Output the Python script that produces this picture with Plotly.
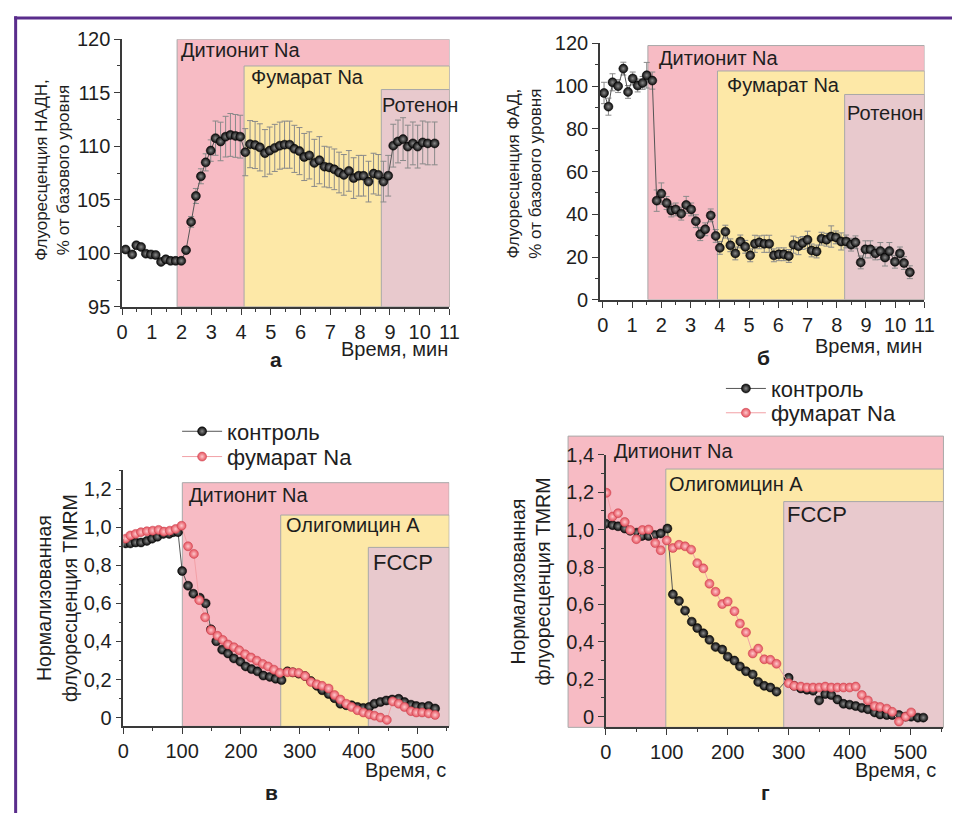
import plotly.graph_objects as go

# ---------------- DATA ----------------
# Panel а: NADH fluorescence, % of baseline
a_time = [0.12, 0.34, 0.48, 0.64, 0.80, 0.97, 1.13, 1.31, 1.47, 1.63, 1.80, 1.99, 2.15, 2.32, 2.48,
          2.65, 2.81, 2.98, 3.14, 3.31, 3.48, 3.64, 3.81, 3.97, 4.14, 4.30, 4.47, 4.63, 4.80, 4.96,
          5.13, 5.30, 5.46, 5.63, 5.79, 5.96, 6.12, 6.29, 6.46, 6.63, 6.80, 6.96, 7.13, 7.29, 7.45,
          7.62, 7.78, 7.95, 8.11, 8.28, 8.45, 8.61, 8.78, 8.94, 9.11, 9.27, 9.44, 9.60, 9.77, 9.93,
          10.10, 10.27, 10.50]
a_nadh = [100.36, 99.9, 100.76, 100.6, 99.97, 99.9, 99.85, 99.2, 99.45, 99.3, 99.3, 99.3, 100.3, 102.94, 105.36,
          107.2, 108.5, 109.6, 110.76, 110.45, 110.9, 111.06, 110.97, 110.9, 109.45, 110.2, 110.12, 109.9, 109.36, 109.6,
          109.85, 110.06, 110.15, 110.15, 109.76, 109.55, 109.0, 109.15, 108.45, 108.7, 108.1, 108.03, 107.85, 107.55, 107.33,
          107.7, 107.03, 107.25, 107.25, 106.7, 107.45, 107.33, 106.7, 107.25, 110.06, 110.45, 110.67, 109.97, 110.27, 109.97,
          110.36, 110.27, 110.27]
a_err = [0.2, 0.2, 0.2, 0.2, 0.2, 0.2, 0.2, 0.2, 0.2, 0.2, 0.2, 0.2, 0.3, 0.5, 0.7,
         0.7, 0.8, 1.0, 1.6, 1.8, 1.9, 2.0, 2.0, 2.0, 2.2, 2.2, 2.2, 2.2, 2.2, 2.2,
         2.2, 2.2, 2.2, 2.2, 2.2, 2.2, 2.2, 2.2, 2.2, 2.2, 1.9, 1.9, 1.9, 1.9, 1.9,
         1.9, 1.9, 1.9, 1.9, 1.9, 1.9, 1.9, 1.9, 1.9, 2.0, 2.0, 2.0, 2.0, 2.0, 2.0,
         2.0, 2.0, 2.0]

# Panel б: FAD fluorescence, % of baseline
b_time = [0.04, 0.19, 0.33, 0.52, 0.70, 0.86, 1.02, 1.19, 1.36, 1.50, 1.69, 1.84, 2.00, 2.18, 2.34, 2.49,
          2.68, 2.85, 3.02, 3.18, 3.33, 3.50, 3.69, 3.86, 4.00, 4.19, 4.36, 4.53, 4.70, 4.87, 5.04, 5.20,
          5.35, 5.52, 5.69, 5.85, 6.02, 6.19, 6.36, 6.52, 6.69, 6.83, 7.00, 7.14, 7.31, 7.48, 7.65, 7.81,
          7.97, 8.15, 8.32, 8.49, 8.64, 8.82, 8.98, 9.15, 9.32, 9.49, 9.65, 9.80, 9.99, 10.16, 10.30, 10.50]
b_fad = [96.8, 90.4, 101.8, 100.0, 108.2, 97.3, 103.6, 100.3, 101.5, 105.1, 102.6, 46.4, 49.7, 45.3, 41.8, 42.3,
         40.3, 44.4, 42.3, 36.8, 30.7, 33.0, 39.5, 29.9, 24.3, 31.9, 25.5, 21.7, 27.3, 24.8, 20.8, 26.2,
         26.9, 26.2, 26.2, 20.8, 21.3, 21.3, 20.5, 25.8, 25.1, 26.6, 28.1, 23.1, 22.6, 28.6, 28.1, 29.6,
         29.2, 27.3, 27.3, 25.8, 26.9, 17.5, 23.6, 23.6, 21.7, 22.8, 19.8, 22.8, 17.8, 21.7, 17.2, 12.9]
b_err = [5, 4, 4, 3, 3, 3, 3, 3, 3, 6, 4, 5, 5, 3, 3, 3,
         3, 4, 3, 3, 3, 3, 3, 3, 3, 3, 3, 3, 3, 3, 3, 4,
         3, 4, 4, 3, 3, 3, 3, 4, 4, 3, 4, 3, 3, 3, 3, 5,
         3, 4, 3, 3, 3, 3, 4, 4, 3, 4, 4, 4, 3, 3, 3, 3]

# Panel в: normalized TMRM fluorescence
v_ctrl_t = [4, 12, 21, 30, 40, 49, 58, 68, 78, 85, 93, 100, 110, 119, 130, 140, 149, 158, 168, 178, 188,
            199, 208, 218, 228, 238, 249, 259, 269, 279, 288, 298, 309, 319, 329, 338, 349, 359, 369, 379,
            388, 398, 408, 418, 427, 437, 447, 457, 468, 478, 489, 498, 508, 519, 530]
v_ctrl = [0.915, 0.915, 0.92, 0.92, 0.928, 0.94, 0.95, 0.965, 0.965, 0.974, 0.974, 0.77, 0.693, 0.651, 0.63,
          0.60, 0.464, 0.401, 0.357, 0.337, 0.311, 0.294, 0.269, 0.255, 0.243, 0.221, 0.214, 0.204, 0.197,
          0.243, 0.238, 0.231, 0.218, 0.192, 0.167, 0.144, 0.124, 0.102, 0.073, 0.065, 0.065, 0.056, 0.051,
          0.056, 0.073, 0.082, 0.09, 0.095, 0.099, 0.082, 0.068, 0.061, 0.056, 0.061, 0.048]
v_fum_t = [4, 12, 21, 30, 40, 50, 60, 69, 79, 89, 99, 110, 120, 129, 139, 149, 160, 169, 178, 188, 197,
           207, 217, 227, 237, 246, 256, 266, 279, 288, 298, 309, 319, 329, 338, 349, 359, 369, 379, 388,
           398, 408, 418, 427, 437, 448, 458, 468, 478, 489, 498, 508, 519, 530]
v_fum = [0.94, 0.957, 0.965, 0.974, 0.979, 0.982, 0.986, 0.977, 0.982, 0.991, 1.008, 0.90, 0.86, 0.617,
         0.527, 0.459, 0.43, 0.408, 0.384, 0.37, 0.354, 0.333, 0.316, 0.299, 0.282, 0.269, 0.252, 0.235,
         0.238, 0.238, 0.235, 0.218, 0.187, 0.175, 0.167, 0.153, 0.119, 0.095, 0.073, 0.056, 0.039, 0.027,
         0.017, 0.01, 0.0, -0.012, 0.085, 0.073, 0.056, 0.034, 0.027, 0.027, 0.022, 0.014]

# Panel г: normalized TMRM fluorescence
g_ctrl_t = [0, 11, 20, 31, 40, 51, 59, 70, 80, 90, 101, 110, 120, 130, 141, 150, 160, 170, 180, 191, 200,
            211, 220, 230, 241, 250, 260, 270, 280, 300, 309, 320, 330, 340, 350, 360, 370, 380, 390, 400,
            410, 420, 430, 441, 450, 461, 470, 481, 492, 501, 512, 521]
g_ctrl = [1.032, 1.024, 1.018, 1.006, 0.994, 0.984, 0.966, 0.966, 0.971, 0.98, 1.006, 0.654, 0.619, 0.567,
          0.508, 0.474, 0.446, 0.411, 0.373, 0.359, 0.321, 0.30, 0.269, 0.243, 0.226, 0.186, 0.165, 0.156,
          0.134, 0.208, 0.165, 0.151, 0.144, 0.139, 0.087, 0.121, 0.116, 0.092, 0.069, 0.064, 0.057, 0.047,
          0.04, 0.023, 0.012, 0.009, 0.009, 0.009, 0.0, 0.0, -0.005, -0.005]
g_fum_t = [1, 11, 20, 31, 40, 50, 60, 70, 81, 90, 100, 110, 120, 130, 140, 150, 160, 170, 180, 191, 200,
           211, 220, 230, 241, 250, 260, 270, 280, 300, 309, 320, 330, 340, 350, 360, 370, 380, 390, 400,
           410, 420, 430, 441, 450, 461, 470, 481, 492, 501]
g_fum = [1.197, 1.07, 1.088, 1.041, 0.998, 0.949, 0.998, 1.001, 0.928, 0.89, 0.942, 0.902, 0.919, 0.911,
         0.893, 0.821, 0.793, 0.711, 0.668, 0.602, 0.616, 0.564, 0.498, 0.451, 0.338, 0.364, 0.307, 0.304,
         0.283, 0.179, 0.165, 0.161, 0.156, 0.156, 0.156, 0.161, 0.156, 0.156, 0.156, 0.156, 0.161, 0.116,
         0.087, 0.057, 0.052, 0.043, 0.026, -0.026, 0.0, 0.023]

# tick labels
ab_xticks = [0, 1, 2, 3, 4, 5, 6, 7, 8, 9, 10, 11]
a_yticks = [95, 100, 105, 110, 115, 120]
b_yticks = [0, 20, 40, 60, 80, 100, 120]
vg_xticks = [0, 100, 200, 300, 400, 500]
v_yticks = [0, 0.2, 0.4, 0.6, 0.8, 1.0, 1.2]
v_yticktext = ["0", "0,2", "0,4", "0,6", "0,8", "1,0", "1,2"]
g_yticks = [0, 0.2, 0.4, 0.6, 0.8, 1.0, 1.2, 1.4]
g_yticktext = ["0", "0,2", "0,4", "0,6", "0,8", "1,0", "1,2", "1,4"]

# treatment intervals: (label, start, end, top)
a_regions = [("Дитионит Na", 1.85, 11, 120), ("Фумарат Na", 4.1, 11, 117.5), ("Ротенон", 8.71, 11, 115.3)]
b_regions = [("Дитионит Na", 1.54, 11, 119), ("Фумарат Na", 3.92, 11, 107.1), ("Ротенон", 8.27, 11, 96.1)]
v_regions = [("Дитионит Na", 100.3, 554, 1.234), ("Олигомицин А", 267.6, 554, 1.064), ("FCCP", 416.5, 554, 0.894)]
g_regions = [("Дитионит Na", -62, 554, 1.5), ("Олигомицин А", 98.4, 554, 1.324), ("FCCP", 291.9, 554, 1.15)]

# ---------------- STYLE ----------------
W, H = 962, 824
FONT = "Liberation Sans, Arial, sans-serif"
TXT = "#1e1e1e"
REG_COLORS = ["#f7bbc4", "#fde8a7", "#e8c9cd"]
REG_LINE = "#a8a8a8"

def px2x(px):
    return px / W

def px2y(py):
    return 1 - py / H

panels = {
    "a": dict(xd=[118, 451], yd=[304, 29], xr=[0, 11], yr=[95, 120]),
    "b": dict(xd=[604, 934], yd=[296.7, 33.3], xr=[-0.1, 11], yr=[0, 120]),
    "v": dict(xd=[119.3, 450.7], yd=[735, 471.7], xr=[0, 554], yr=[-0.046, 1.3]),
    "g": dict(xd=[610, 953.3], yd=[736, 456], xr=[0, 554], yr=[-0.057, 1.4]),
}
axis_ids = {"a": ("x", "y"), "b": ("x2", "y2"), "v": ("x3", "y3"), "g": ("x4", "y4")}

fig = go.Figure()

ball_black = dict(color="#080808", size=9, line=dict(color="#000", width=0.5),
                  gradient=dict(type="radial", color="#8a8a8a"))
ball_pink = dict(color="#e4505c", size=9, line=dict(color="#c8404c", width=0.5),
                 gradient=dict(type="radial", color="#ffc8cc"))

def err(arr):
    return dict(type="data", array=arr, visible=True, color="#8a8a8a", thickness=1, width=3)

fig.add_trace(go.Scatter(x=a_time, y=a_nadh, mode="lines+markers", xaxis="x", yaxis="y",
                         line=dict(color="#555", width=1), marker=ball_black,
                         error_y=err(a_err), showlegend=False))
fig.add_trace(go.Scatter(x=b_time, y=b_fad, mode="lines+markers", xaxis="x2", yaxis="y2",
                         line=dict(color="#555", width=1), marker=ball_black,
                         error_y=err(b_err), showlegend=False))
fig.add_trace(go.Scatter(x=v_ctrl_t, y=v_ctrl, mode="lines+markers", xaxis="x3", yaxis="y3",
                         line=dict(color="#555", width=1), marker=ball_black,
                         name="контроль", legend="legend"))
fig.add_trace(go.Scatter(x=v_fum_t, y=v_fum, mode="lines+markers", xaxis="x3", yaxis="y3",
                         line=dict(color="#f2a0a6", width=1), marker=ball_pink,
                         name="фумарат Na", legend="legend2"))
fig.add_trace(go.Scatter(x=g_ctrl_t, y=g_ctrl, mode="lines+markers", xaxis="x4", yaxis="y4",
                         line=dict(color="#555", width=1), marker=ball_black,
                         name="контроль", legend="legend3"))
fig.add_trace(go.Scatter(x=g_fum_t, y=g_fum, mode="lines+markers", xaxis="x4", yaxis="y4",
                         line=dict(color="#f2a0a6", width=1), marker=ball_pink,
                         name="фумарат Na", legend="legend4"))

shapes = []
annotations = []

def to_paper(p, x, y):
    d = panels[p]
    x0, x1 = d["xd"]
    yb, yt = d["yd"]
    pxx = x0 + (x - d["xr"][0]) / (d["xr"][1] - d["xr"][0]) * (x1 - x0)
    pyy = yb + (y - d["yr"][0]) / (d["yr"][1] - d["yr"][0]) * (yt - yb)
    return px2x(pxx), px2y(pyy)

label_pos = {
    "a": [(176, 40), (247, 68), (380, 97)],
    "b": [(662, 48), (731, 76), (853, 105)],
    "v": [(184, 497), (283, 528), (371, 567)],
    "g": [(616, 452), (672, 486), (792, 517)],
}

for p, regs in [("a", a_regions), ("b", b_regions), ("v", v_regions), ("g", g_regions)]:
    xa, ya = axis_ids[p]
    for i, (lab, s, e, top) in enumerate(regs):
        if p == "g" and i == 0:
            # this band extends beyond the axes, so place it on the page
            x0p, y0p = to_paper(p, s, panels[p]["yr"][0])
            x1p, y1p = to_paper(p, e, top)
            shapes.append(dict(type="rect", xref="paper", yref="paper", x0=x0p, x1=x1p, y0=y0p, y1=y1p,
                               fillcolor=REG_COLORS[i], line=dict(color=REG_LINE, width=1), layer="below"))
        else:
            shapes.append(dict(type="rect", xref=xa, yref=ya, x0=s, x1=e, y0=panels[p]["yr"][0], y1=top,
                               fillcolor=REG_COLORS[i], line=dict(color=REG_LINE, width=1), layer="below"))
        lx, ly = label_pos[p][i]
        annotations.append(dict(xref="paper", yref="paper", x=px2x(lx), y=px2y(ly), xanchor="left",
                                yanchor="middle", text=lab, showarrow=False,
                                font=dict(size=22 if lab == "FCCP" else 20, color=TXT, family=FONT)))

# purple frame (left and top)
shapes.append(dict(type="line", xref="paper", yref="paper", x0=px2x(9.8), x1=px2x(9.8), y0=0, y1=px2y(5.5),
                   line=dict(color="#5a2d8c", width=3)))
shapes.append(dict(type="line", xref="paper", yref="paper", x0=px2x(8.3), x1=1, y0=px2y(7.2), y1=px2y(7.2),
                   line=dict(color="#5a2d8c", width=3)))

# axis titles and panel letters
ytitles = [
    ("Флуоресценция НАДН,<br>% от базового уровня", 47, 163, 17),
    ("Флуоресценция ФАД,<br>% от базового уровня", 527, 167, 17),
    ("Нормализованная<br>флуоресценция TMRM", 52, 603, 19.5),
    ("Нормализованная<br>флуоресценция TMRM", 533, 586, 19.5),
]
for t, x, y, s in ytitles:
    annotations.append(dict(xref="paper", yref="paper", x=px2x(x), y=px2y(y), text=t, textangle=-90,
                            showarrow=False, xanchor="center", yanchor="middle",
                            font=dict(size=s, color=TXT, family=FONT)))
xtitles = [("Время, мин", 452, 347), ("Время, мин", 934, 344), ("Время, с", 449, 780), ("Время, с", 948, 780)]
for t, x, y in xtitles:
    annotations.append(dict(xref="paper", yref="paper", x=px2x(x), y=px2y(y), text=t, showarrow=False,
                            xanchor="right", yanchor="middle", font=dict(size=20, color=TXT, family=FONT)))
letters = [("а", 275, 358), ("б", 770, 356), ("в", 270, 803), ("г", 772, 803)]
for t, x, y in letters:
    annotations.append(dict(xref="paper", yref="paper", x=px2x(x), y=px2y(y), text="<b>%s</b>" % t,
                            showarrow=False, xanchor="center", yanchor="middle",
                            font=dict(size=21, color=TXT, family=FONT)))

def xaxis_cfg(p, ticks, dminor, anchor):
    d = panels[p]
    return dict(domain=[px2x(d["xd"][0]), px2x(d["xd"][1])], range=d["xr"], anchor=anchor,
                tickvals=ticks, showline=True, linecolor="#3a3a3a", linewidth=1.5, ticks="outside",
                ticklen=6, tickcolor="#3a3a3a", showgrid=False, zeroline=False,
                minor=dict(ticks="outside", dtick=dminor, ticklen=3, tickcolor="#3a3a3a"),
                tickfont=dict(size=20, color=TXT, family=FONT))

def yaxis_cfg(p, ticks, text, dminor, anchor):
    d = panels[p]
    cfg = dict(domain=[px2y(d["yd"][0]), px2y(d["yd"][1])], range=d["yr"], anchor=anchor,
               tickvals=ticks, showline=True, linecolor="#3a3a3a", linewidth=1.5, ticks="outside",
               ticklen=6, tickcolor="#3a3a3a", showgrid=False, zeroline=False,
               minor=dict(ticks="outside", dtick=dminor, ticklen=3, tickcolor="#3a3a3a"),
               tickfont=dict(size=20, color=TXT, family=FONT))
    if text is not None:
        cfg["ticktext"] = text
    return cfg

def leg(text_x, row_y):
    return dict(x=px2x(text_x - 56), y=px2y(row_y), xanchor="left", yanchor="middle",
                bgcolor="rgba(0,0,0,0)", font=dict(size=22, color=TXT, family=FONT), itemwidth=40)

fig.update_layout(
    width=W, height=H, margin=dict(l=0, r=0, t=0, b=0),
    paper_bgcolor="white", plot_bgcolor="rgba(0,0,0,0)",
    font=dict(family=FONT, color=TXT),
    xaxis=xaxis_cfg("a", ab_xticks, 0.5, "y"),
    yaxis=yaxis_cfg("a", a_yticks, None, 2.5, "x"),
    xaxis2=xaxis_cfg("b", ab_xticks, 0.5, "y2"),
    yaxis2=yaxis_cfg("b", b_yticks, None, 10, "x2"),
    xaxis3=xaxis_cfg("v", vg_xticks, 50, "y3"),
    yaxis3=yaxis_cfg("v", v_yticks, v_yticktext, 0.1, "x3"),
    xaxis4=xaxis_cfg("g", vg_xticks, 50, "y4"),
    yaxis4=yaxis_cfg("g", g_yticks, g_yticktext, 0.1, "x4"),
    legend=leg(230, 432),
    legend2=leg(230, 458),
    legend3=leg(783, 388),
    legend4=leg(783, 413),
    shapes=shapes, annotations=annotations,
)

fig.write_html("out.html", config={"displayModeBar": False},
               post_script="document.body.style.margin='0px';document.body.style.overflow='hidden';")
